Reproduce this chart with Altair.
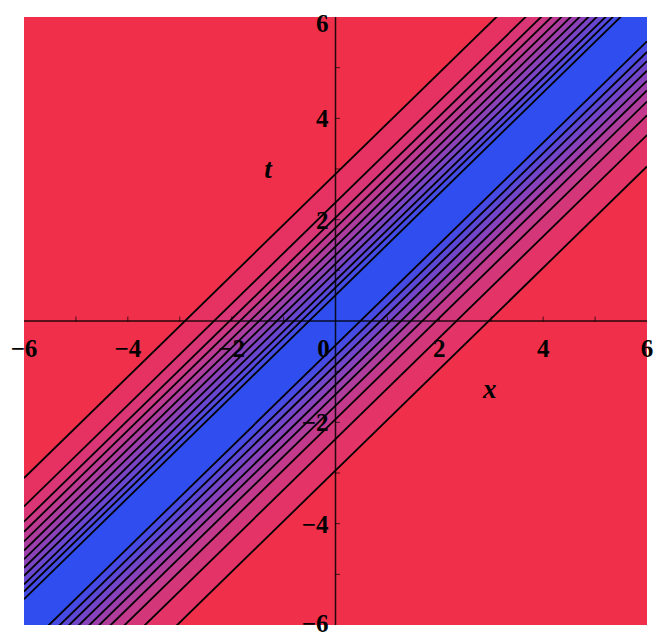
import altair as alt
import pandas as pd

# Level lines of the travelling wave, given by their offset z = x - t
upper_offsets = [-2.90, -2.34, -2.04, -1.84, -1.65, -1.47, -1.30, -1.13, -0.97, -0.80, -0.66, -0.51]
lower_offsets = [0.48, 0.69, 0.87, 1.06, 1.26, 1.45, 1.67, 1.94, 2.33, 2.95]

x_ticks = [-6, -4, -2, 2, 4, 6]
t_ticks_inner = [-4, -2, 2, 4]
t_tick_top = [6]
t_tick_bottom = [-6]
minor_ticks = [-5, -4, -3, -2, -1, 1, 2, 3, 4, 5]

RED = (240, 48, 72)
BLUE = (48, 78, 240)
LO, HI = -6, 6


def mix(k, n):
    # red fades a little slower than blue rises, keeping the middle bands violet
    f = k / n
    fr, fg, fb = f ** 1.2, f, f ** 0.75
    r = round(RED[0] + (BLUE[0] - RED[0]) * fr)
    g = round(RED[1] + (BLUE[1] - RED[1]) * fg)
    b = round(RED[2] + (BLUE[2] - RED[2]) * fb)
    return f"#{r:02x}{g:02x}{b:02x}"


def fmt(v):
    return f"−{abs(v)}" if v < 0 else str(v)


# filled bands between consecutive level lines
bands = []
n_up = len(upper_offsets)
for i in range(n_up - 1):
    bands.append((upper_offsets[i], upper_offsets[i + 1], mix(i + 1, n_up)))
bands.append((upper_offsets[-1], lower_offsets[0], mix(1, 1)))
n_lo = len(lower_offsets)
for j in range(n_lo - 1):
    bands.append((lower_offsets[j], lower_offsets[j + 1], mix(n_lo - 1 - j, n_lo)))

band_rows = []
for b, (za, zb, col) in enumerate(bands):
    for x in (LO, HI):
        band_rows.append({"band": b, "x": x, "lo": x - zb, "hi": x - za, "fill": col})
band_df = pd.DataFrame(band_rows)

line_rows = []
for k, z in enumerate(upper_offsets + lower_offsets):
    for x in (LO, HI):
        line_rows.append({"line": k, "x": x, "t": x - z})
line_df = pd.DataFrame(line_rows)

xs = alt.Scale(domain=[LO, HI], nice=False, zero=False)
ys = alt.Scale(domain=[LO, HI], nice=False, zero=False)

fills = alt.Chart(band_df).mark_area(clip=True, interpolate="linear").encode(
    x=alt.X("x:Q", scale=xs, axis=None),
    y=alt.Y("lo:Q", scale=ys, axis=None),
    y2="hi:Q",
    color=alt.Color("fill:N", scale=None),
    detail="band:N",
)

contours = alt.Chart(line_df).mark_line(clip=True, color="black", strokeWidth=1.8).encode(
    x=alt.X("x:Q", scale=xs),
    y=alt.Y("t:Q", scale=ys),
    detail="line:N",
)

axes_df = pd.DataFrame([
    {"x": LO, "x2": HI, "y": 0, "y2": 0},
    {"x": 0, "x2": 0, "y": LO, "y2": HI},
])
axes = alt.Chart(axes_df).mark_rule(color="black", strokeWidth=1.5, opacity=0.85).encode(
    x=alt.X("x:Q", scale=xs), x2="x2:Q", y=alt.Y("y:Q", scale=ys), y2="y2:Q"
)

tick_df = pd.DataFrame({"v": minor_ticks, "zero": 0})
xtick_marks = alt.Chart(tick_df).mark_tick(
    color="black", size=5, thickness=1, opacity=0.7, orient="vertical", yOffset=-2
).encode(x=alt.X("v:Q", scale=xs), y=alt.Y("zero:Q", scale=ys))
ytick_marks = alt.Chart(tick_df).mark_tick(
    color="black", size=5, thickness=1, opacity=0.7, orient="horizontal", xOffset=2
).encode(y=alt.Y("v:Q", scale=ys), x=alt.X("zero:Q", scale=xs))

label_font = dict(font="Liberation Serif", fontSize=25, fontWeight="bold", color="black")

xl_df = pd.DataFrame({"v": x_ticks, "lab": [fmt(v) for v in x_ticks], "zero": 0})
x_labels = alt.Chart(xl_df).mark_text(align="center", baseline="middle", dy=28, **label_font).encode(
    x=alt.X("v:Q", scale=xs), y=alt.Y("zero:Q", scale=ys), text="lab:N"
)


def t_label_layer(values, baseline, dy):
    df = pd.DataFrame({"v": values, "lab": [fmt(v) for v in values], "zero": 0})
    return alt.Chart(df).mark_text(align="right", baseline=baseline, dx=-7, dy=dy, **label_font).encode(
        x=alt.X("zero:Q", scale=xs), y=alt.Y("v:Q", scale=ys), text="lab:N"
    )


y_labels_inner = t_label_layer(t_ticks_inner, "middle", 1)
y_label_top = t_label_layer(t_tick_top, "alphabetic", 15)
y_label_bottom = t_label_layer(t_tick_bottom, "alphabetic", 7)

zero_df = pd.DataFrame({"v": [0], "lab": ["0"]})
zero_label = alt.Chart(zero_df).mark_text(align="center", baseline="middle", dx=-12, dy=28, **label_font).encode(
    x=alt.X("v:Q", scale=xs), y=alt.Y("v:Q", scale=ys), text="lab:N"
)

title_df = pd.DataFrame([
    {"x": 2.97, "t": -1.36, "lab": "x"},
    {"x": -1.30, "t": 2.98, "lab": "t"},
])
titles = alt.Chart(title_df).mark_text(
    font="Liberation Serif", fontSize=27, fontStyle="italic", fontWeight="bold", color="black",
    align="center", baseline="middle",
).encode(x=alt.X("x:Q", scale=xs), y=alt.Y("t:Q", scale=ys), text="lab:N")

chart = alt.layer(
    fills, contours, axes, xtick_marks, ytick_marks, x_labels,
    y_labels_inner, y_label_top, y_label_bottom, zero_label, titles
).properties(
    width=623, height=608,
    autosize=alt.AutoSizeParams(type="none"),
    padding={"left": 24, "top": 17, "right": 16, "bottom": 14},
    background="white",
).configure_view(fill="#F0304A", stroke=None)

chart.save("out.html", embed_options={"renderer": "svg", "actions": False})
